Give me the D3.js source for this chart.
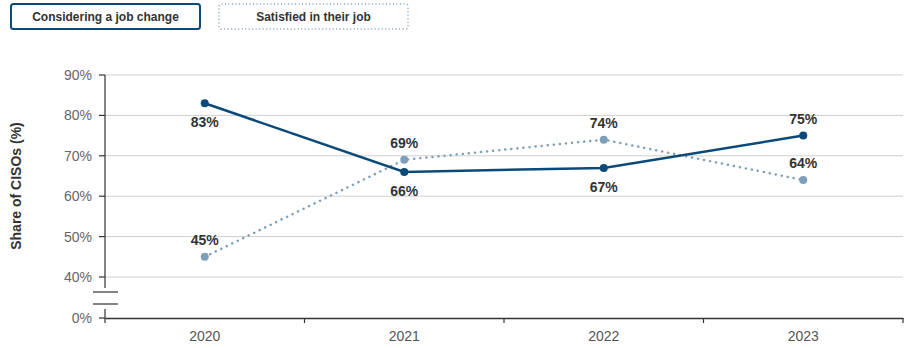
<!DOCTYPE html>
<html><head><meta charset="utf-8">
<script src="https://cdn.jsdelivr.net/npm/d3@7"></script>
<style>body{margin:0;background:#fff;font-family:"Liberation Sans",Arial,sans-serif}</style>
</head><body><svg id="c" width="905" height="348"></svg>
<script>
const years = ["2020","2021","2022","2023"];
const considering = [83,66,67,75];
const satisfied = [45,69,74,64];
const yTicks = [0,40,50,60,70,80,90];
const seriesNames = ["Considering a job change","Satisfied in their job"];
const labelPosConsidering = ["below","below","below","above"];
const labelPosSatisfied = ["above","above","above","above"];

const FONT = "'Liberation Sans',Arial,sans-serif";
const dark = "#0b4a78", light = "#7e9fb9";
const svg = d3.select("#c").attr("font-family",FONT);
const x = d3.scaleBand().domain(years).range([105,903]);
const y = d3.scaleLinear().domain([0,40,90]).range([318,277,75]);

// gridlines
svg.append("g").selectAll("line").data(yTicks.filter(d=>d>0)).join("line")
  .attr("x1",105).attr("x2",903).attr("y1",d=>y(d)).attr("y2",d=>y(d))
  .attr("stroke","#cfcfcf").attr("stroke-width",1);

// y tick labels
svg.append("g").selectAll("text").data(yTicks).join("text")
  .attr("x",92).attr("y",d=>y(d)).attr("dy","0.35em").attr("text-anchor","end")
  .attr("font-size",14).attr("fill","#666").text(d=>d+"%");
svg.append("g").selectAll("line").data(yTicks).join("line")
  .attr("x1",99).attr("x2",105).attr("y1",d=>y(d)).attr("y2",d=>y(d))
  .attr("stroke","#333").attr("stroke-width",1.2);

// y axis line with break
svg.append("line").attr("x1",105).attr("x2",105).attr("y1",y(90)).attr("y2",288).attr("stroke","#333").attr("stroke-width",1.2);
svg.append("line").attr("x1",105).attr("x2",105).attr("y1",309).attr("y2",323).attr("stroke","#333").attr("stroke-width",1.2);
[292,304].forEach(yy=>svg.append("line").attr("x1",93).attr("x2",118).attr("y1",yy).attr("y2",yy).attr("stroke","#333").attr("stroke-width",1.2));

// x axis
const xAxis = svg.append("g").attr("transform","translate(0,318)")
  .call(d3.axisBottom(x).tickSize(0).tickPadding(13));
xAxis.select(".domain").attr("stroke","#333").attr("stroke-width",1.5);
xAxis.selectAll("text").attr("font-size",14).attr("fill","#555").attr("font-family",FONT);
const bounds = years.map(d=>x(d)).concat([x.range()[1]]);
svg.append("g").selectAll("line").data(bounds.slice(1)).join("line")
  .attr("x1",d=>d).attr("x2",d=>d).attr("y1",318).attr("y2",323).attr("stroke","#333").attr("stroke-width",1.2);

// y title
svg.append("text").attr("transform","translate(21,186) rotate(-90)").attr("text-anchor","middle")
  .attr("font-size",14).attr("font-weight","bold").attr("fill","#333").text("Share of CISOs (%)");

const cx = d => x(d)+x.bandwidth()/2;
const line = d3.line().x((d,i)=>cx(years[i])).y(d=>y(d));

svg.append("path").datum(satisfied).attr("d",line).attr("fill","none")
  .attr("stroke",light).attr("stroke-width",2.5).attr("stroke-dasharray","0.1 6").attr("stroke-linecap","round");
svg.append("path").datum(considering).attr("d",line).attr("fill","none")
  .attr("stroke",dark).attr("stroke-width",2.5);

svg.append("g").selectAll("circle").data(satisfied).join("circle")
  .attr("cx",(d,i)=>cx(years[i])).attr("cy",d=>y(d)).attr("r",4).attr("fill",light);
svg.append("g").selectAll("circle").data(considering).join("circle")
  .attr("cx",(d,i)=>cx(years[i])).attr("cy",d=>y(d)).attr("r",4).attr("fill",dark);

function labels(data,pos){
  svg.append("g").selectAll("text").data(data).join("text")
    .attr("x",(d,i)=>cx(years[i])).attr("y",(d,i)=>y(d)+(pos[i]==="below"?24:-12))
    .attr("text-anchor","middle").attr("font-size",14).attr("font-weight","bold").attr("fill","#333")
    .text(d=>d+"%");
}
labels(considering,labelPosConsidering);
labels(satisfied,labelPosSatisfied);

// legend
const lg = [{x:11,w:189,stroke:dark,dash:null},{x:219,w:189,stroke:light,dash:"1 2.5"}];
lg.forEach((l,i)=>{
  svg.append("rect").attr("x",l.x).attr("y",4).attr("width",l.w).attr("height",25).attr("rx",2.5)
    .attr("fill","#fff").attr("stroke",l.stroke).attr("stroke-width",i===0?2:1.5)
    .attr("stroke-dasharray",l.dash);
  svg.append("text").attr("x",l.x+l.w/2).attr("y",17).attr("dy","0.35em").attr("text-anchor","middle")
    .attr("font-size",12).attr("font-weight","bold").attr("fill","#333").text(seriesNames[i]);
});
</script></body></html>
